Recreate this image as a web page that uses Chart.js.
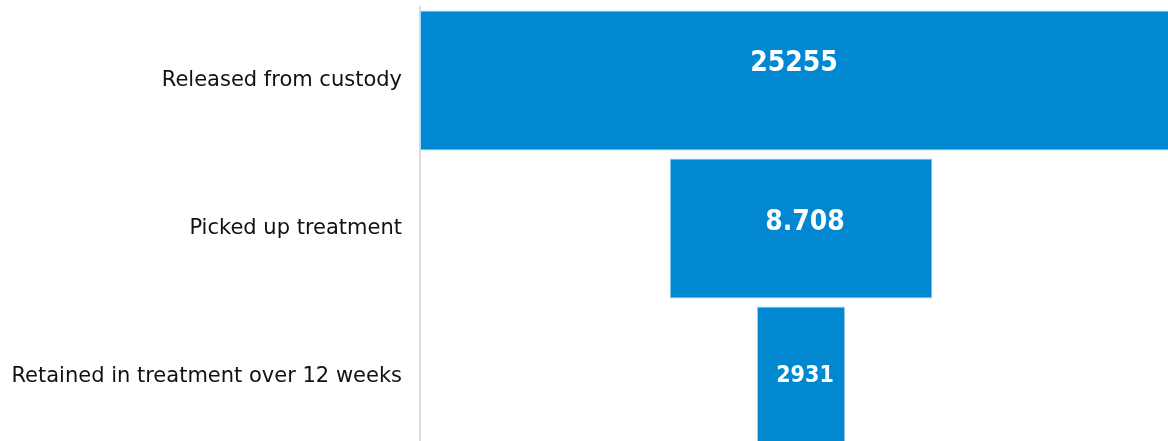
<!DOCTYPE html>
<html>
<head>
<meta charset="utf-8">
<script src="https://cdn.jsdelivr.net/npm/chart.js@4.4.0/dist/chart.umd.min.js"></script>
<style>
  html, body { margin: 0; padding: 0; background: #ffffff; overflow: hidden; }
  #wrap { width: 1168px; height: 441px; overflow: hidden; position: relative; }
  #c { position: absolute; left: 0; top: -24px; }
</style>
</head>
<body>
<div id="wrap"><canvas id="c" width="1182" height="505"></canvas></div>
<script>
const categories = ["Released from custody", "Picked up treatment", "Retained in treatment over 12 weeks"];
const values = [25255, 8708, 2931];
const valueLabels = ["25255", "8.708", "2931"];

const maxVal = Math.max(...values);
const floating = values.map(v => [-v / 2, v / 2]);
const VISIBLE_RIGHT = 1168;

const labelPlugin = {
  id: 'barLabels',
  afterDatasetsDraw(chart, args, opts) {
    const ctx = chart.ctx;
    const meta = chart.getDatasetMeta(0);
    ctx.save();
    meta.data.forEach((bar, i) => {
      const p = bar.getProps(['x', 'y', 'base'], true);
      const l = Math.min(p.x, p.base);
      const r = Math.max(p.x, p.base);
      const w = r - l;
      const cx = (l + Math.min(r, VISIBLE_RIGHT)) / 2 + (opts.dx[i] || 0);
      const size = Math.min(28, w * 0.26);
      ctx.font = 'bold ' + size + 'px "DejaVu Sans Condensed", "DejaVu Sans", sans-serif';
      ctx.fillStyle = '#ffffff';
      ctx.textAlign = 'center';
      ctx.textBaseline = 'middle';
      ctx.fillText(valueLabels[i], cx, p.y + (opts.dy[i] || 0));
    });
    ctx.restore();
  }
};

new Chart(document.getElementById('c'), {
  type: 'bar',
  data: {
    labels: categories,
    datasets: [{
      data: floating,
      backgroundColor: '#0288d1',
      borderColor: '#a9d8f2',
      borderWidth: 1,
      borderSkipped: false,
      barPercentage: 0.946,
      categoryPercentage: 1.0
    }]
  },
  options: {
    indexAxis: 'y',
    responsive: false,
    animation: false,
    devicePixelRatio: 1,
    layout: { padding: { top: 6, right: 0, bottom: 0, left: 0 } },
    plugins: {
      legend: { display: false },
      tooltip: { enabled: false },
      barLabels: { dx: [0, 4, 4], dy: [-17, -6, 0] }
    },
    scales: {
      x: {
        display: false,
        min: -maxVal / 2,
        max: maxVal / 2
      },
      y: {
        grid: { display: false, drawTicks: false },
        border: { display: true, color: '#dcdcdc', width: 2 },
        ticks: {
          color: '#111111',
          padding: 18,
          font: { family: '"DejaVu Sans", sans-serif', size: 21 }
        },
        afterFit(scale) { scale.width = 420; }
      }
    }
  },
  plugins: [labelPlugin]
});
</script>
</body>
</html>
